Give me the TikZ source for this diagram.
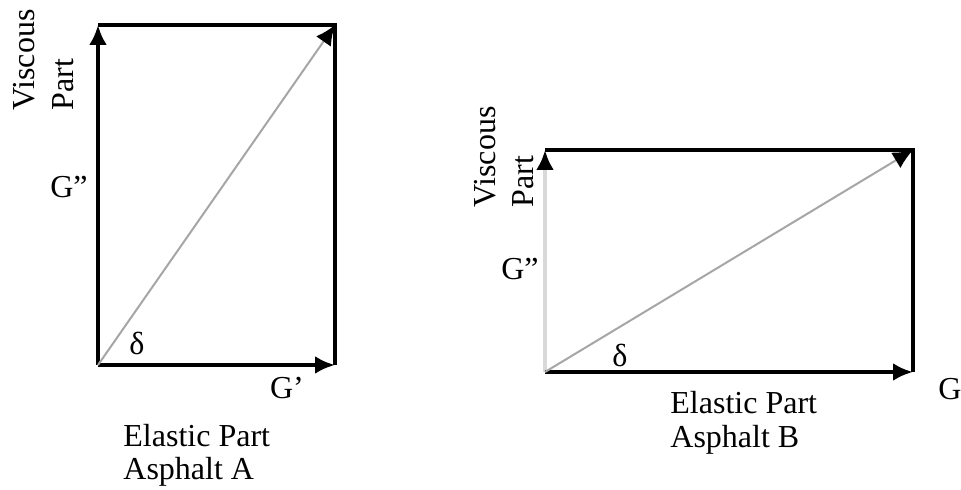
\documentclass[tikz,border=0pt]{standalone}
\usepackage{fontspec}
\setmainfont{Liberation Serif}
\usetikzlibrary{positioning,arrows.meta}

\begin{document}
\begin{tikzpicture}[
  x=0.5pt, y=-0.5pt,
  lbl/.style={font=\fontsize{16}{19}\selectfont, inner sep=1pt},
  vlbl/.style={lbl, rotate=90, anchor=west},
  boxedge/.style={draw=black, line width=2pt},
  axisedge/.style={boxedge, -{Latex[length=10pt,width=9pt]}},
  diagedge/.style={draw=gray!70, line width=1pt, -{Latex[color=black,length=10pt,width=9pt]}}
]
\useasboundingbox (0,0) rectangle (961,490);

% Asphalt A
\coordinate (aO) at (98,365);
\coordinate (aX) at (335,365);
\coordinate (aY) at (98,25);
\coordinate (aT) at (335,25);
\draw[boxedge] (aY) -- (aT) -- (aX);
\draw[axisedge] (aO) -- (aY);
\draw[axisedge] (aO) -- (aX);
\draw[diagedge] (aO) -- (aT);
\node[vlbl] (aVis) at (24,113) {Viscous};
\node[vlbl] (aPart) at (63,113) {Part};
\node[lbl] (aGpp) at (69,187) {G''};
\node[lbl] (aDelta) at (137,343) {δ};
\node[lbl] (aGp) at (287,388) {G'};
\node[lbl, anchor=base west] (aEl) at (121,446) {Elastic Part};
\node[lbl, anchor=base west] (aAs) at (121,479) {Asphalt A};

% Asphalt B
\coordinate (bO) at (545,372);
\coordinate (bX) at (913,372);
\coordinate (bY) at (545,150);
\coordinate (bT) at (913,150);
\draw[boxedge] (bY) -- (bT) -- (bX);
\draw[boxedge, draw=gray!30, -{Latex[color=black,length=10pt,width=9pt]}] (bO) -- (bY);
\draw[axisedge] (bO) -- (bX);
\draw[diagedge] (bO) -- (bT);
\node[vlbl] (bVis) at (485,210) {Viscous};
\node[vlbl] (bPart) at (523,210) {Part};
\node[lbl] (bGpp) at (520,269) {G''};
\node[lbl] (bDelta) at (620,355) {δ};
\node[lbl] (bGp) at (950,389) {G};
\node[lbl, anchor=base west] (bEl) at (668,414) {Elastic Part};
\node[lbl, anchor=base west] (bAs) at (668,447) {Asphalt B};

\end{tikzpicture}
\end{document}
